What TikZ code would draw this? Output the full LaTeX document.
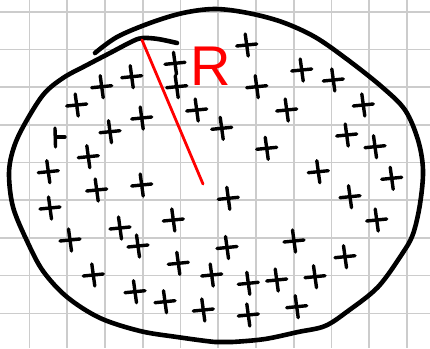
\documentclass[tikz,border=0pt]{standalone}
\usepackage{fontspec}
\setmainfont{Liberation Sans}
\begin{document}
\begin{tikzpicture}[x=1pt,y=-1pt,
  gridline/.style={draw=gray!40, line width=1.6pt},
  outline/.style={draw=black, line width=4.6pt, line cap=round, line join=round},
  plusmark/.style={draw=black, line width=3.4pt, line cap=round},
  radiusline/.style={draw=red, line width=2.8pt, line cap=round},
  rlabel/.style={text=red, inner sep=0pt, font=\fontsize{56}{56}\selectfont}]
\fill[white] (0,0) rectangle (430,348);
\useasboundingbox (0,0) rectangle (430,348);
% grid
\foreach \i in {0,...,10} \draw[gridline] ({29.5+37.75*\i},0) -- ({29.5+37.75*\i},348);
\foreach \j in {0,...,8} \draw[gridline] (0,{11.7+37.7*\j}) -- (430,{11.7+37.7*\j});
% hand-drawn outline
\draw[outline] plot[smooth, tension=0.55] coordinates {
  (95,53) (117,37) (150,23) (183,13) (215,9) (248,13) (282,22) (315,37)
  (348,60) (382,87) (405,110) (418,140) (423,170) (420,204) (413,234)
  (402,254) (378,287) (348,311) (325,326) (298,332) (265,339) (232,342)
  (215,342) (177,337) (140,331) (100,318) (67,297) (43,271) (27,241)
  (13,207) (9,174) (13,150) (23,127) (43,95) (63,78) (87,65) (110,53)
  (133,41) (143,38) (158,39) (177,43)};
% plus marks
\foreach \px/\py in {
  131.7/76.7, 101.7/86.7, 76.7/105, 141.7/118, 110/131.7,
  175/63.3, 176.7/86.7, 246.7/45, 256.7/86.7, 196.7/110, 221.7/128.3,
  286.7/110, 301.7/70, 333.3/80, 363.3/105, 346.7/135, 375/146.7,
  88.3/156.7, 48.3/171.7, 96.7/190, 141.7/185, 50/208, 120/228, 70/240,
  138/246, 266.7/148.3, 228.3/198.3, 173.3/220, 227/247.5, 318.3/171.7,
  391.7/178.3, 350/196.7, 376.7/220, 294/241, 178.3/263.3, 211.7/275,
  93.3/275, 135/291.7, 165/301.7, 203.3/310, 345/256.7, 248.3/283.3,
  276.7/280, 315/276.7, 248.3/315, 296.7/306.7}
{
  \draw[plusmark] ({\px-10},{\py+1}) -- ({\px+10},{\py-1});
  \draw[plusmark] ({\px-1.5},{\py-11}) -- ({\px+1.5},{\py+11});
}
% half plus
\draw[plusmark] (55,128) -- (55.5,147);
\draw[plusmark] (55.5,137) -- (65,137);
% radius
\coordinate (rim) at (142,40);
\coordinate (centre) at (203,184);
\draw[radiusline] (rim) -- (centre);
\node[rlabel, anchor=base west] (R) at (190,85) {R};
\end{tikzpicture}
\end{document}
